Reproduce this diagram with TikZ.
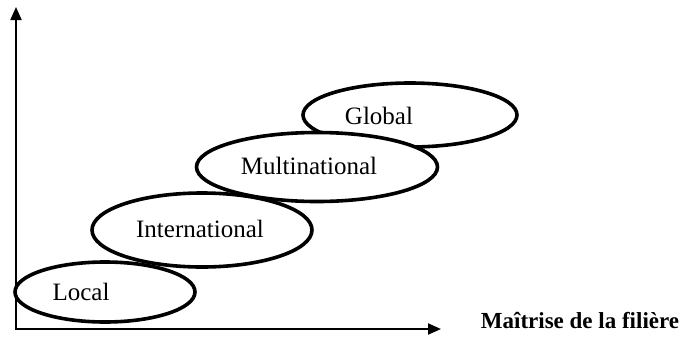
\documentclass[tikz,border=0pt]{standalone}
\usepackage{fontspec}
\setmainfont{Liberation Serif}
\usetikzlibrary{shapes.geometric,arrows.meta}
\tikzset{
  stage/.style={ellipse, draw=black, fill=white, line width=3.6pt, inner sep=0pt},
  stagetext/.style={anchor=base, inner sep=0pt, font=\fontsize{25}{28}\selectfont},
  axis/.style={line width=2pt, -{Triangle[length=13pt,width=11pt]}},
}
\begin{document}
\begin{tikzpicture}[x=1pt,y=-1pt]
\useasboundingbox (0,0) rectangle (688,338);
\coordinate (o) at (16,329);
\coordinate (ytop) at (16,7);
\coordinate (xend) at (441,329);
\draw[axis] (o) -- (ytop);
\draw[axis] ([xshift=-1pt]o) -- (xend);
\node[stage, minimum width=214pt, minimum height=64pt] (glob) at (410,115) {};
\node[stage, minimum width=241pt, minimum height=69pt] (multi) at (317,167) {};
\node[stage, minimum width=220pt, minimum height=74pt] (inter) at (202,230) {};
\node[stage, minimum width=180pt, minimum height=60pt] (loc) at (105,292) {};
\node[stagetext] (tglob) at (379,124) {Global};
\node[stagetext] (tmulti) at (309,174) {Multinational};
\node[stagetext] (tinter) at (200,237) {International};
\node[stagetext] (tloc) at (81,300) {Local};
\node[anchor=base, inner sep=0pt, font=\bfseries\fontsize{23}{26}\selectfont] (xlab) at (580,328) {Maîtrise de la filière};
\end{tikzpicture}
\end{document}
